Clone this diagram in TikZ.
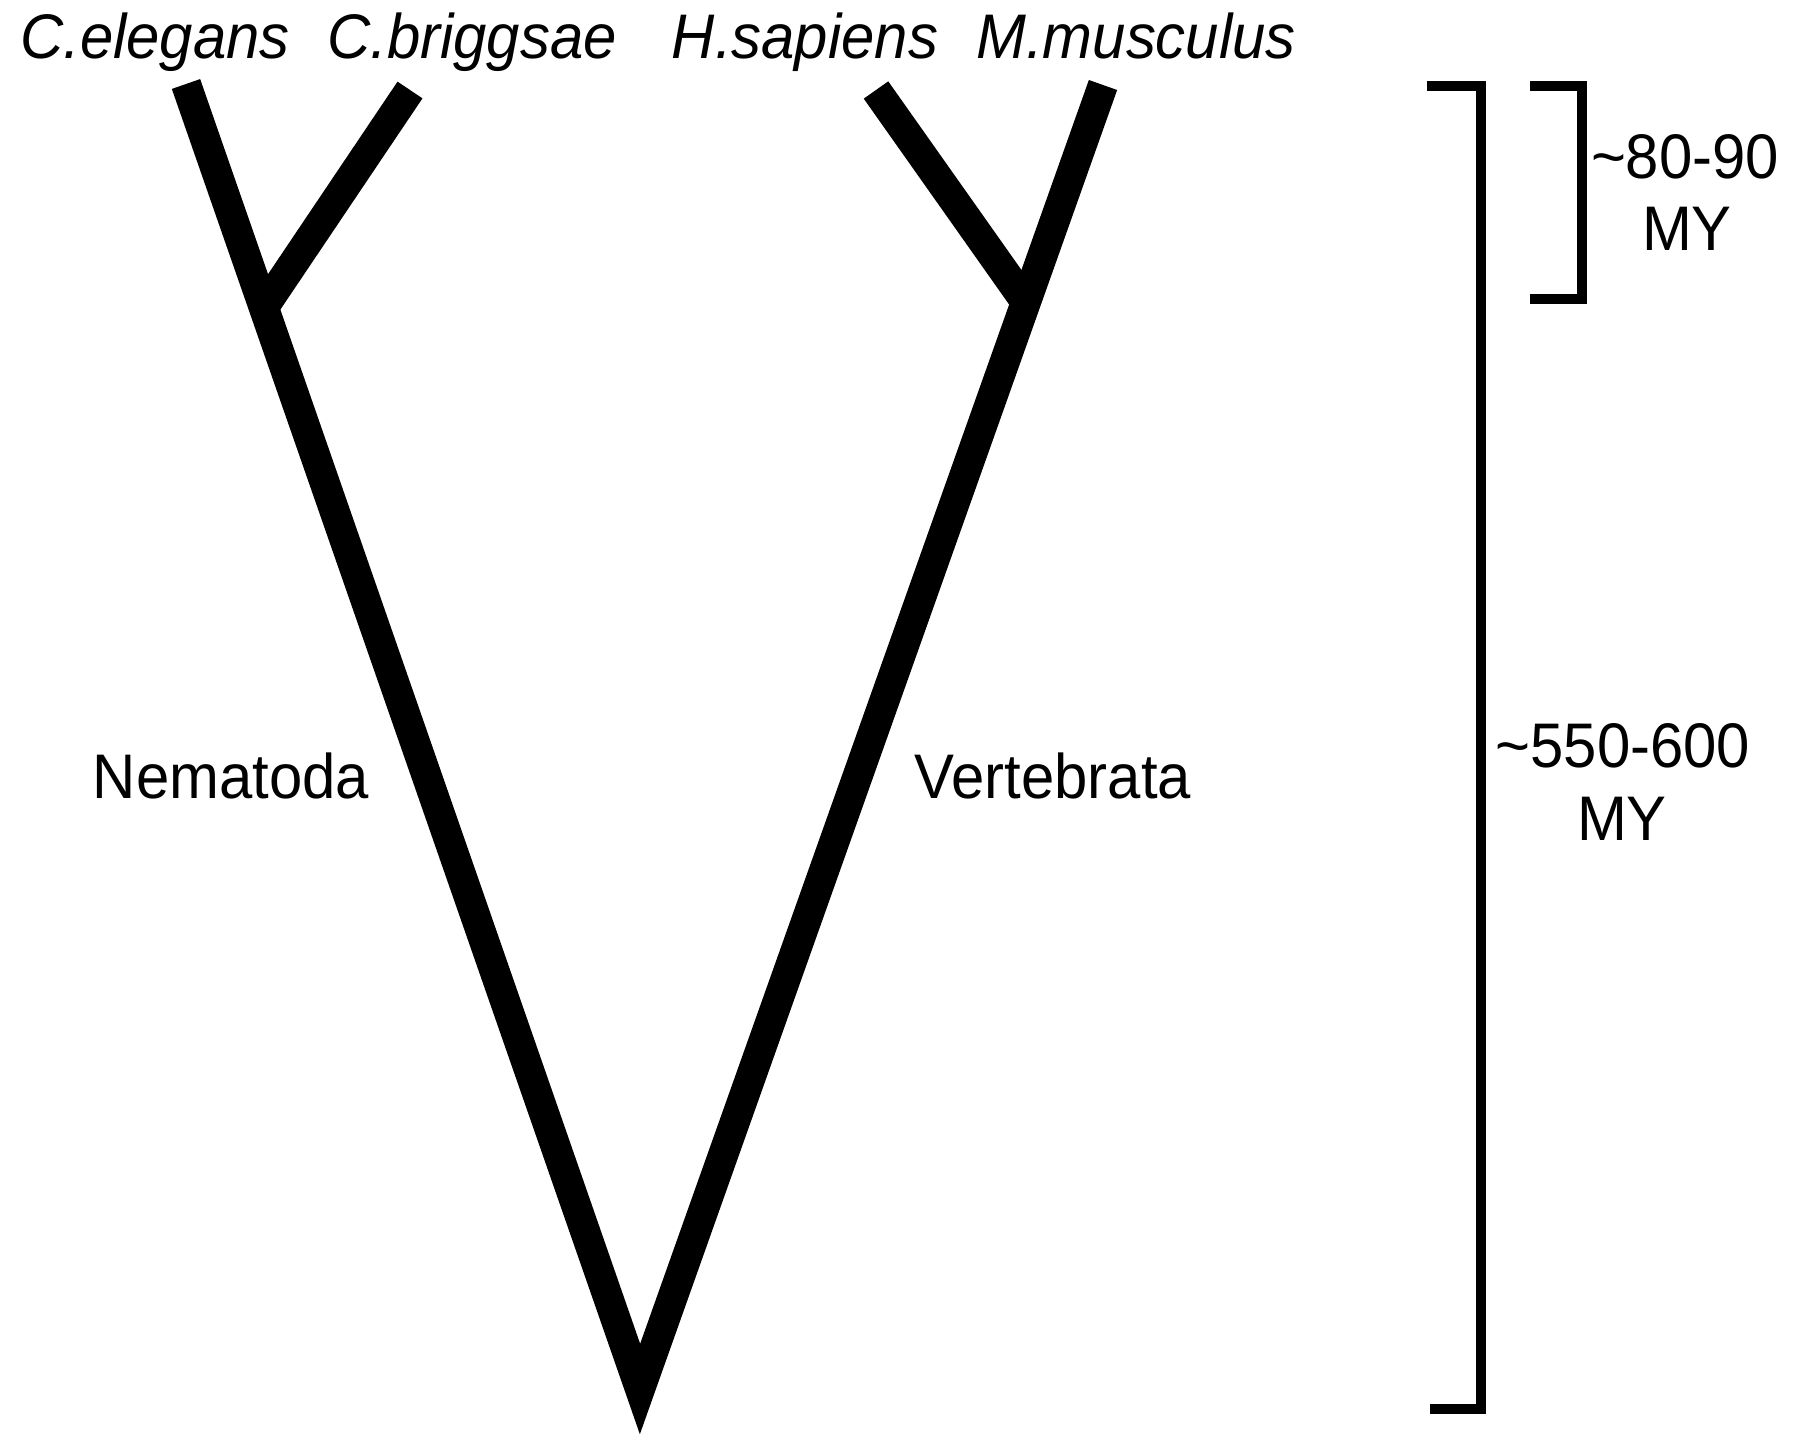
\documentclass[tikz,border=0pt]{standalone}
\usepackage{fontspec}
\setmainfont[FakeStretch=0.95]{Liberation Sans}
\begin{document}
\begin{tikzpicture}[x=1pt,y=-1pt,
  branch/.style={line width=30pt,line join=miter,line cap=butt,black},
  bracketline/.style={line width=10pt,line join=miter,line cap=butt,black},
  lbl/.style={anchor=base,inner sep=0pt,font=\fontsize{63}{72.5}\selectfont},
  sp/.style={lbl,font=\fontsize{63}{72.5}\selectfont\itshape}]
\useasboundingbox[fill=white] (0,0) rectangle (1800,1440);
% tips and junctions
\coordinate (ce) at (186,84);
\coordinate (cb) at (410,90);
\coordinate (hs) at (876,90);
\coordinate (mm) at (1103,85);
\coordinate (jn) at (262,310);
\coordinate (jv) at (1025,301);
\coordinate (root) at (640,1389);
% tree
\draw[branch] (ce) -- (root) -- (mm);
\draw[branch] (cb) -- (jn);
\draw[branch] (hs) -- (jv);
% species labels
\node[sp] (lce) at (155,58) {C.elegans};
\node[sp] (lcb) at (472,58) {C.briggsae};
\node[sp] (lhs) at (805,58) {H.sapiens};
\node[sp] (lmm) at (1136,58) {M.musculus};
% clade labels
\node[lbl] (nem) at (231,798) {Nematoda};
\node[lbl] (ver) at (1053,798) {Vertebrata};
% brackets
\coordinate (bLt) at (1427,86);
\coordinate (bLtr) at (1481,86);
\coordinate (bLbr) at (1481,1409);
\coordinate (bLb) at (1430,1409);
\draw[bracketline] (bLt) -- (bLtr) -- (bLbr) -- (bLb);
\coordinate (bSt) at (1530,86);
\coordinate (bStr) at (1582,86);
\coordinate (bSbr) at (1582,299);
\coordinate (bSb) at (1530,299);
\draw[bracketline] (bSt) -- (bStr) -- (bSbr) -- (bSb);
% age labels
\node[lbl] (a1) at (1685,178) {\textasciitilde80-90};
\node[lbl] (a1b) at (1687,250) {MY};
\node[lbl] (a2) at (1623,767) {\textasciitilde550-600};
\node[lbl] (a2b) at (1622,840) {MY};
\end{tikzpicture}
\end{document}
